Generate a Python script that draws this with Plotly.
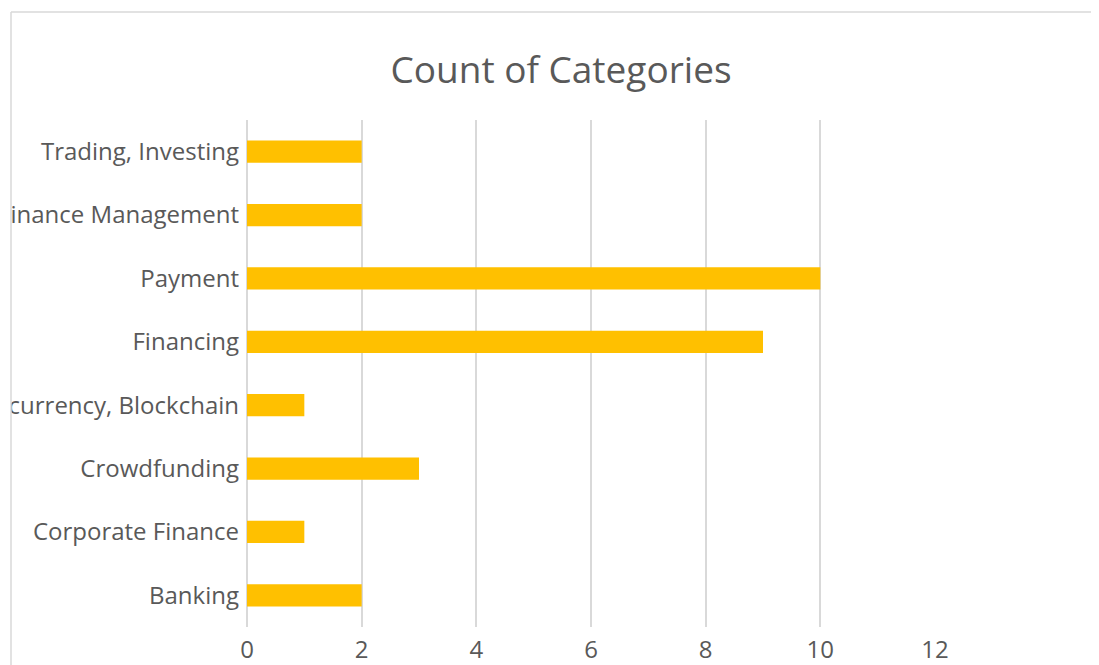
import plotly.graph_objects as go

categories = ["Banking", "Corporate Finance", "Crowdfunding", "Cryptocurrency, Blockchain",
              "Financing", "Payment", "Personal Finance Management", "Trading, Investing"]
counts = [2, 1, 3, 1, 9, 10, 2, 2]
x_ticks = [0, 2, 4, 6, 8, 10, 12]

OFF = 8  # page body margin
W, H = 1099, 665
L, T = 247 - OFF, 120 - OFF
R = W - (935 - OFF)
B = H - (627 - OFF)
pw, ph = W - L - R, H - T - B

def px_x(p):
    return (p - OFF - L) / pw

def px_y(p):
    return (H - B - (p - OFF)) / ph

fig = go.Figure(go.Bar(
    y=categories, x=counts, orientation="h",
    marker=dict(color="#FFC000", line=dict(width=0)),
    width=0.35,
))

fig.update_layout(
    width=W, height=H,
    margin=dict(l=L, r=R, t=T, b=B, autoexpand=False),
    paper_bgcolor="white", plot_bgcolor="white",
    font=dict(family="Open Sans", color="#595959", size=24),
    title=dict(text="Count of Categories", x=(561 - OFF) / W, xanchor="center",
               y=1 - (70 - OFF) / H, yanchor="middle", xref="container", yref="container",
               font=dict(size=37, color="#595959", family="Open Sans")),
    showlegend=False,
)
fig.update_xaxes(range=[0, 12], tickvals=x_ticks, showgrid=True, gridcolor="#d9d9d9",
                 gridwidth=2, zeroline=True, zerolinecolor="#d9d9d9", zerolinewidth=2,
                 showline=False, ticks="", ticklabelstandoff=6,
                 tickfont=dict(size=24, color="#595959"), fixedrange=True)
fig.update_yaxes(showgrid=False, zeroline=False, showline=False, ticks="",
                 ticklabelstandoff=7, tickfont=dict(size=24, color="#595959"),
                 fixedrange=True)

# mask for left clipping and chart border
fig.add_shape(type="rect", xref="paper", yref="paper", x0=px_x(-20), x1=px_x(11),
              y0=px_y(H + 20), y1=px_y(-20), fillcolor="white", line=dict(width=0), layer="above")
fig.add_shape(type="line", xref="paper", yref="paper", x0=px_x(11), x1=px_x(11),
              y0=px_y(H + 20), y1=px_y(12), line=dict(color="#d9d9d9", width=1.5), layer="above")
fig.add_shape(type="line", xref="paper", yref="paper", x0=px_x(11), x1=px_x(W + 20),
              y0=px_y(12), y1=px_y(12), line=dict(color="#d9d9d9", width=1.5), layer="above")

fig.write_html("out.html")
